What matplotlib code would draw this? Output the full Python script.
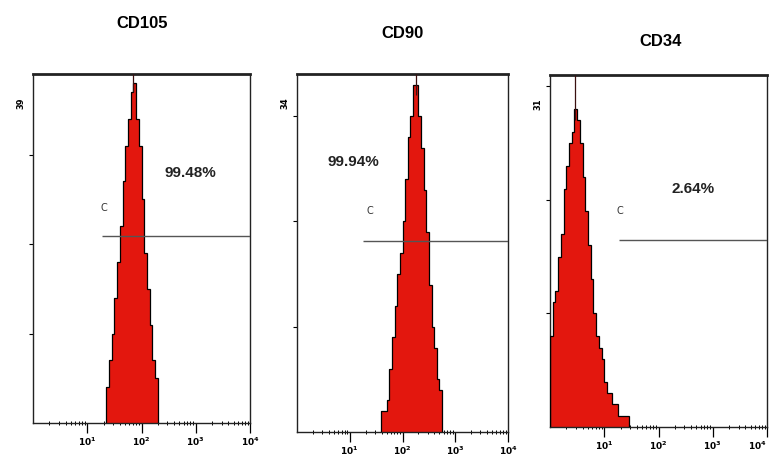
"""Flow cytometry histograms: CD105 / CD90 / CD34 surface markers."""
import numpy as np
import matplotlib
matplotlib.use("Agg")
import matplotlib.pyplot as plt
from matplotlib.ticker import LogLocator, NullFormatter, FixedLocator

# ── data ─────────────────────────────────────────────────────────────────────
markers = ["CD105", "CD90", "CD34"]
y_max = [39, 34, 31]
percent_labels = ["99.48%", "99.94%", "2.64%"]

BIN_W = 0.05  # histogram bin width, in decades

# first bin edge (decades) and counts per bin
cd105_start = 1.35
cd105_counts = [4, 7, 10, 14, 18, 22, 27, 31, 34, 37, 38, 34, 31, 25, 19, 15,
                11, 7, 5]
cd90_start = 1.60
cd90_counts = [2, 2, 3, 6, 9, 12, 15, 17, 20, 24, 28, 30, 33, 33, 30, 27, 23,
               19, 14, 10, 8, 5, 4]
cd34_start = 0.0
cd34_counts = [8, 11, 12, 15, 17, 21, 23, 25, 26, 28, 27, 25, 22, 19, 16, 13,
               10, 8, 7, 6, 4, 3, 3, 2, 2, 1, 1, 1, 1]

peak_pos = [1.85, 2.26, 0.46]          # decades, thin max-channel spike
gate_start = [1.28, 1.25, 1.27]        # decades, gate runs to 10^4
gate_level = [20.9, 18.1, 16.5]        # counts
gate_label_pos = [(1.30, 24.0), (1.38, 21.0), (1.29, 19.0)]
pct_pos = [(2.90, 27.9), (1.06, 25.6), (2.63, 21.0)]

starts = [cd105_start, cd90_start, cd34_start]
counts = [cd105_counts, cd90_counts, cd34_counts]

# ── layout (pixels), title positions (pixels from top) ───────────────────────
W, H = 773, 471
boxes = [(33, 74, 250, 423), (297, 74, 508, 432), (550, 75, 767, 427)]
title_xy = [(142, 24), (402, 33), (661, 42)]

RED = "#e3170e"

fig = plt.figure(figsize=(W / 100, H / 100), dpi=100)
fig.patch.set_facecolor("white")

for i in range(3):
    x0, y0, x1, y1 = boxes[i]
    ax = fig.add_axes([x0 / W, (H - y1) / H, (x1 - x0) / W, (y1 - y0) / H])
    c = np.array(counts[i], dtype=float)
    edges = starts[i] + BIN_W * np.arange(len(c) + 1)
    ax.stairs(c, 10 ** edges, fill=True, color=RED, zorder=2)
    ax.stairs(c, 10 ** edges, color="black", lw=0.9, zorder=3)
    ax.vlines(10 ** peak_pos[i], c.max() - 1, y_max[i], color="#3a1010",
              lw=0.9, zorder=3)

    # marker gate
    ax.hlines(gate_level[i], 10 ** gate_start[i], 1e4, color="#555555",
              lw=1.0, zorder=4)
    gx, gy = gate_label_pos[i]
    ax.text(10 ** gx, gy, "C", fontsize=7, ha="center", va="center",
            color="#333333")
    px, py = pct_pos[i]
    ax.text(10 ** px, py, percent_labels[i], fontsize=11, fontweight="bold",
            ha="center", va="center", color="#222222", family="Liberation Sans")

    ax.set_xscale("log")
    ax.set_xlim(1, 1e4)
    ax.set_ylim(0, y_max[i])
    ax.xaxis.set_major_locator(FixedLocator([10, 100, 1000, 10000]))
    ax.xaxis.set_minor_locator(LogLocator(base=10, subs=np.arange(2, 10)))
    ax.xaxis.set_minor_formatter(NullFormatter())
    labels = ax.set_xticklabels([r"$\mathbf{10^1}$", r"$\mathbf{10^2}$",
                                 r"$\mathbf{10^3}$", r"$\mathbf{10^4}$"])
    if i == 2:
        labels[-1].set_horizontalalignment("right")
    ax.tick_params(axis="x", which="major", direction="out", length=7,
                   width=0.9, labelsize=6.5, pad=2)
    ax.tick_params(axis="x", which="minor", direction="inout", length=3,
                   width=0.7)
    ax.set_yticks([10, 20, 30])
    ax.set_yticklabels([])
    ax.tick_params(axis="y", direction="out", length=3, width=0.8)
    ax.text(-0.055, 1 - 29 / (y1 - y0), str(y_max[i]), transform=ax.transAxes,
            fontsize=6, fontweight="bold", rotation=90, ha="center",
            va="center")

    for side, sp in ax.spines.items():
        sp.set_color("#222222")
        sp.set_linewidth(2.0 if side == "top" else 1.0)

    tx, ty = title_xy[i]
    fig.text(tx / W, 1 - ty / H, markers[i], fontsize=12, fontweight="bold",
             ha="center", va="center", family="Liberation Sans")

fig.savefig("out.png", dpi=100)
